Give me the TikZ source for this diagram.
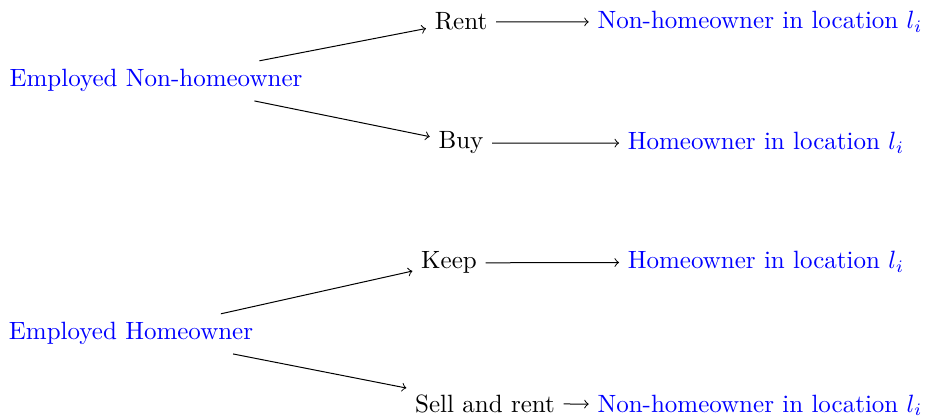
\documentclass[tikz,border=0pt]{standalone}
\begin{document}
\begin{tikzpicture}[x=0.4pt,y=-0.4pt,
  state/.style={text=blue,anchor=base},
  act/.style={anchor=base},
  arr/.style={->}]
\useasboundingbox (0,0) rectangle (930,417);
\node[state] (enh) at (156,87) {Employed Non-homeowner};
\node[act] (rent) at (461,30) {Rent};
\node[act] (buy) at (461,149) {Buy};
\node[state] (r1) at (760,29) {Non-homeowner in location $l_i$};
\node[state] (r2) at (766,150) {Homeowner in location $l_i$};
\node[state] (eh) at (131,340) {Employed Homeowner};
\node[act] (keep) at (449,269) {Keep};
\node[act] (sell) at (485,412) {Sell and rent};
\node[state] (r3) at (766,269) {Homeowner in location $l_i$};
\node[state] (r4) at (760,412) {Non-homeowner in location $l_i$};
\draw[arr] (enh) -- (rent);
\draw[arr] (enh) -- (buy);
\draw[arr] (rent) -- (r1);
\draw[arr] (buy) -- (r2);
\draw[arr] (eh) -- (keep);
\draw[arr] (eh) -- (sell);
\draw[arr] (keep) -- (r3);
\draw[arr] (sell) -- (r4);
\end{tikzpicture}
\end{document}
